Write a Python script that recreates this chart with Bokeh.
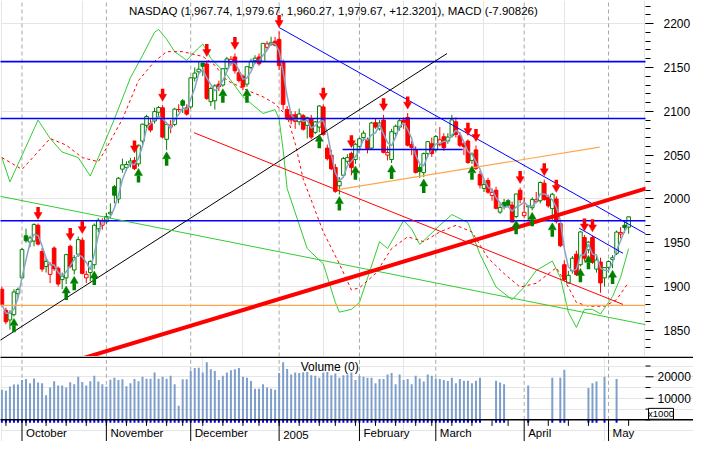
import pandas as pd
from bokeh.plotting import figure
from bokeh.layouts import column
from bokeh.models import Range1d, LinearAxis, FixedTicker
from bokeh.core.properties import value
from bokeh.embed import file_html
from bokeh.resources import INLINE

FONT = "Liberation Sans"

# ---------------- data (trading day index 0 = 2004-09-24 ... 156 = 2005-05-09) ----------------
opens = [1897,1873,1862,1868,1892,1910,1958,1951,1952,1970,
         1940,1923,1914,1944,1921,1908,1910,1946,1919,1937,
         1953,1910,1916,1925,1966,1970,1974,1983,2014,2000,
         2034,2036,2041,2044,2040,2066,2084,2086,2089,2099,
         2104,2068,2082,2085,2102,2112,2104,2105,2138,2145,
         2155,2154,2111,2112,2131,2130,2149,2155,2162,2144,
         2140,2131,2150,2158,2162,2157,2173,2176,2180,2182,
         2156,2102,2096,2096,2088,2095,2084,2092,2076,2082,
         2105,2058,2050,2036,2015,2027,2043,2052,2045,2060,
         2070,2068,2058,2087,2080,2090,2050,2045,2075,2082,
         2090,2093,2062,2056,2036,2030,2052,2063,2056,2062,
         2071,2066,2072,2088,2072,2063,2066,2044,2056,2028,
         2012,2021,2004,2010,1985,1996,1998,1993,1980,2010,
         1981,1992,1990,1997,1998,2018,2002,1989,2000,1972,
         1925,1904,1918,1937,1925,1956,1942,1956,1920,1928,
         1910,1922,1931,1938,1960,1970,1967.74]
highs = [1900,1876,1873,1897,1899,1944,1966,1958,1972,1972,
         1944,1932,1928,1946,1923,1916,1937.5,1948,1936,1957,
         1956,1918,1930,1972,1978,1978,1984,1995,2016,2025,
         2046,2043,2047,2048,2062,2086,2096,2091,2104,2106,
         2107,2086,2090,2104,2108,2114,2108,2139,2150,2157,
         2155,2158,2128,2131,2135,2149,2162,2163,2166,2148,
         2142,2151,2160,2164,2166,2178,2180,2185,2185,2191,
         2159,2106,2100,2100,2103,2097,2094,2096,2089,2107,
         2108,2062,2056,2040,2025,2048,2051,2054,2064,2070,
         2078,2070,2088,2092,2090,2096,2060,2080,2085,2092,
         2093,2098,2066,2060,2040,2053,2066,2070,2073,2082,
         2075,2075,2096,2093,2076,2065,2068,2053,2061,2032,
         2022,2024,2012,2014,1995,2000,2000,1997,2006,2013,
         2002,1993,2002,2008,2020,2022,2005,2007,2003,1975,
         1930,1918,1935,1941,1963,1959,1952,1958,1936,1933,
         1922,1930,1936,1964,1968,1976,1979.67]
lows = [1877,1857,1851,1866,1887,1909,1950,1945,1946,1947,
        1917,1916,1904,1918,1900,1897,1903,1921,1914,1934,
        1914,1904,1906,1920,1962,1965,1971,1978,1995,1995,
        2030,2032,2036,2033,2037,2062,2080,2076,2086,2094,
        2069,2056,2075,2083,2099,2098,2095,2103,2134,2142,
        2140,2113,2106,2102,2123,2128,2147,2152,2143,2133,
        2124,2128,2148,2154,2152,2156,2170,2175,2174,2147,
        2102,2090,2085,2080,2084,2078,2069,2068,2074,2076,
        2072,2044,2033,2007,2005,2025,2040,2027,2040,2057,
        2066,2052,2056,2080,2078,2052,2044,2041,2072,2078,
        2080,2060,2050,2029,2024,2025,2048,2048,2054,2060,
        2055,2063,2070,2070,2059,2050,2040,2040,2033,2012,
        2008,2006,1998,1988,1983,1988,1991,1973,1978,1995,
        1978,1975,1987,1995,1995,1998,1990,1975,1972,1945,
        1907,1904,1915,1912,1923,1929,1938,1926,1916,1893,
        1900,1916,1921,1936,1955,1961,1960.27]
closes = [1879.5,1859.9,1869.9,1893.9,1896.8,1942.2,1952.4,1955.5,1971.0,1948.5,
          1920.0,1928.8,1925.2,1920.5,1903.0,1911.5,1936.5,1922.9,1933.0,1953.6,
          1915.1,1914.0,1928.8,1970.0,1975.7,1975.0,1979.9,1984.8,2004.3,2023.6,
          2038.9,2039.3,2043.3,2034.6,2061.3,2085.3,2094.1,2078.6,2099.7,2104.3,
          2070.6,2085.2,2084.3,2102.5,2102.0,2106.9,2096.8,2138.2,2143.6,2148.0,
          2151.3,2114.7,2126.0,2129.0,2128.1,2148.5,2159.8,2159.3,2146.2,2135.2,
          2127.9,2150.9,2157.0,2160.6,2154.2,2177.5,2177.0,2178.3,2175.4,2152.2,
          2107.9,2091.2,2090.0,2088.6,2097.0,2079.6,2092.5,2070.6,2087.9,2106.0,
          2073.6,2045.9,2034.3,2008.7,2020.0,2046.1,2047.2,2035.8,2062.4,2068.7,
          2075.1,2057.6,2086.7,2082.0,2086.7,2053.1,2052.9,2076.7,2082.9,2089.2,
          2087.4,2061.3,2058.6,2030.3,2031.2,2051.7,2065.4,2051.7,2071.3,2067.5,
          2058.4,2070.6,2090.2,2073.6,2061.3,2059.7,2041.6,2051.2,2034.9,2015.8,
          2016.4,2007.8,2007.5,1989.3,1990.2,1991.1,1992.9,1973.9,2005.7,1999.2,
          1984.8,1991.1,1999.3,1999.1,2018.8,1999.4,1992.1,2005.4,1974.2,1946.7,
          1908.2,1912.9,1932.4,1913.8,1962.4,1932.4,1950.8,1927.7,1930.4,1904.2,
          1921.7,1928.7,1933.1,1962.2,1961.8,1967.35,1979.67]
volume = [14020,13570,15510,16410,16410,18500,18950,17010,19250,17310,
          17010,11480,15070,17900,15960,15960,15070,17460,16560,20000,
          17610,15960,17900,20450,17760,16560,15510,18650,19550,18500,
          18800,15660,17010,18950,17900,20000,19100,19100,21940,19100,
          20000,19100,20450,16560,6550,18800,18800,22690,24030,24180,
          21940,26730,23440,22690,18500,20450,21940,22990,23440,24030,
          20000,19550,18050,14470,14470,16560,15070,14470,14020,21790,
          26730,23590,21040,21940,21790,22090,22240,20750,20450,19550,
          21940,22240,20750,21490,19550,20750,21040,21940,18500,20450,
          20000,19550,19550,17010,18950,18950,21040,21790,16560,21040,
          18500,18950,16560,20450,19250,17760,21040,20450,19250,18950,
          18500,18050,19550,17010,18950,18200,18200,17010,18200,19550,
          None,None,None,18200,17310,16560,None,None,None,None,
          None,15960,None,None,None,None,None,19550,None,19550,
          23290,None,None,None,None,None,14770,17010,17760,None,
          20000,None,None,18950,None,None,None]

month_start = [5, 26, 47, 69, 89, 108, 130, 151]
month_labels = ["October", "November", "December", "2005", "February", "March", "April", "May"]
week_start = [1, 6, 11, 16, 21, 26, 31, 36, 41, 45, 50, 55, 60, 64, 69, 74, 79, 83, 88, 93,
              98, 103, 107, 112, 117, 122, 126, 131, 136, 141, 146, 151, 156]

price_ticks = [1850, 1900, 1950, 2000, 2050, 2100, 2150, 2200]
price_minor = list(range(1830, 2221, 10))
vol_ticks = [10000, 20000]
vol_tick_labels = ["10000", "20000"]
vol_minor = [0, 5000, 15000, 25000]
vol_unit_label = "x1000"

macd_day = [0, 2, 9, 12, 15, 19, 22, 24, 28, 32, 35, 38, 39, 41, 43, 46, 48, 50, 52, 56, 60, 65, 68,
            69, 70, 71, 76, 80, 83, 84, 87, 89, 94, 96, 100, 102, 104, 109, 112, 116, 119, 123, 127,
            130, 133, 137, 139, 141, 143, 145, 147, 149, 152, 154, 156]
macd_val = [18.1, 11.1, 28.9, 23.6, 19.7, 18.1, 12.8, 18.1, 29.2, 41.1, 47.5, 54.2, 55.0, 52.2, 48.6,
            46.1, 48.6, 50.8, 46.7, 41.9, 35.6, 30.8, 31.9, 29.2, 20.3, 9.2, -8.1, -12.5, -23.6, -26.4,
            -25.6, -23.6, -6.1, -8.1, 0.0, -2.5, -6.9, -1.4, 1.7, -0.6, -9.7, -19.2, -22.8, -19.2,
            -14.4, -11.7, -16.4, -26.4, -30.8, -25.6, -25.6, -26.9, -21.9, -16.4, -8.1]
signal_day = [0, 5, 12, 16, 20, 24, 26, 30, 34, 38, 41, 45, 50, 53, 56, 61, 65, 68, 71, 73, 75, 80,
              84, 87, 89, 93, 97, 101, 105, 109, 113, 117, 121, 125, 129, 133, 138, 141, 143, 146,
              150, 153, 156]
signal_val = [18.1, 14.7, 23.6, 21.7, 18.1, 16.9, 20.8, 29.2, 40.3, 45.8, 48.6, 48.6, 47.2, 44.7,
              40.3, 37.5, 35.6, 33.6, 30.0, 22.2, 11.9, -3.3, -12.5, -20.0, -19.4, -15.3, -8.1, -4.7,
              -6.1, -3.3, -1.4, -3.3, -10.8, -15.3, -19.2, -18.1, -13.6, -19.2, -23.6, -24.7, -24.7,
              -22.8, -17.8]

red_arrow_days = [9, 17, 20, 33, 40, 51, 58, 69, 80, 87, 95, 101, 116, 118, 129, 135, 138, 145, 147]
green_arrow_days = [3, 16, 18, 23, 34, 41, 55, 61, 79, 84, 88, 97, 105, 117, 128, 132, 137, 144, 146, 152]

# drawn trend lines: (day, price) anchors
blue_levels = [2156.7, 2091.8, 1975.1]
orange_level = 1878.6
blue_diag = ([69.0, 161.0], [2195.6, 1958.3])
black_diag = ([-1.0, 110.8], [1837.1, 2165.9])
red_thin = ([47.8, 154.6], [2075.6, 1879.7])
red_thick = ([19.0, 161.0], [1816.7, 2012.9])
green_thin = ([-1.0, 161.0], [2003.6, 1855.9])
orange_diag = ([83.6, 148.8], [2010.7, 2059.1])
blue_seg = ([84.8, 114.7], [2056.4, 2056.4])
blue_short = ([143.7, 154.6], [1966.7, 1938.0])

title_text = "NASDAQ (1,967.74, 1,979.67, 1,960.27, 1,979.67, +12.3201), MACD (-7.90826)"

# ---------------- layout constants ----------------
X0, X1 = -0.35, 160.2
Y0, Y1 = 1820.3, 2226.4
V0, V1 = -10045, 29417
M0, M1 = -39.17, 63.33
FW, FH1, FH2 = 645, 356, 85
RB = 48
GREEN, RED = "#008000", "#ff0000"

n = len(closes)
days = list(range(n))


def base_fig(fw, fh, xr, yr, rb):
    f = figure(frame_width=fw, frame_height=fh, x_range=xr, y_range=yr,
               output_backend="svg", toolbar_location=None,
               x_axis_location=None, y_axis_location=None,
               min_border_left=0, min_border_right=rb, min_border_top=0, min_border_bottom=0)
    f.outline_line_color = None
    f.background_fill_color = "white"
    f.border_fill_color = "white"
    return f


# ---------------- price panel ----------------
p = base_fig(FW, FH1, Range1d(X0, X1), Range1d(Y0, Y1), RB)
p.extra_y_ranges = {"macd": Range1d(M0, M1)}

pax = LinearAxis(ticker=FixedTicker(ticks=price_ticks, minor_ticks=price_minor))
pax.axis_line_color = None
pax.major_tick_in = 0
pax.minor_tick_in = 0
pax.major_tick_out = 8
pax.minor_tick_out = 5
pax.major_tick_line_color = "black"
pax.minor_tick_line_color = "black"
pax.major_label_text_font = FONT
pax.major_label_text_font_size = "12px"
pax.major_label_text_color = "black"
pax.major_label_standoff = 10
p.add_layout(pax, "right")

p.segment(x0=month_start, y0=[Y0] * len(month_start), x1=month_start, y1=[Y1] * len(month_start),
          line_color="#a8a8a8", line_width=1, line_dash="4 3")

# MACD overlay
p.line(macd_day, macd_val, y_range_name="macd", line_color="#33cc33", line_width=1)
p.line(signal_day, signal_val, y_range_name="macd", line_color=RED, line_width=1, line_dash="3 3")

# candles
cols, fills, tops, bots = [], [], [], []
for i in range(n):
    prev = closes[i - 1] if i > 0 else opens[0]
    c = GREEN if closes[i] > prev else RED
    cols.append(c)
    fills.append("white" if closes[i] > opens[i] else c)
    tops.append(max(opens[i], closes[i]))
    bots.append(min(opens[i], closes[i]))
p.segment(x0=days, y0=lows, x1=days, y1=highs, line_color=cols, line_width=1)
p.vbar(x=days, width=0.9, top=tops, bottom=bots, fill_color=fills, line_color=cols, line_width=1)

# short moving average of closes
sma = pd.Series(closes).rolling(3, min_periods=1).mean().tolist()
p.line(days, sma, line_color="#87a3c8", line_width=1.5)

# trend lines
for lv in blue_levels:
    p.line([X0 - 1, X1 + 1], [lv, lv], line_color="#0000ff", line_width=1.6)
p.line([X0 - 1, X1 + 1], [orange_level, orange_level], line_color="#ffa64d", line_width=1.2)
p.line(*orange_diag, line_color="#ffa64d", line_width=1.2)
p.line(*blue_diag, line_color="#0000ff", line_width=1)
p.line(*blue_seg, line_color="#0000ff", line_width=1.6)
p.line(*blue_short, line_color="#0000ff", line_width=1)
p.line(*black_diag, line_color="black", line_width=1)
p.line(*red_thin, line_color=RED, line_width=1)
p.line(*green_thin, line_color="#33cc33", line_width=1)
p.line(*red_thick, line_color=RED, line_width=4)

# signal arrows
ppx = (Y1 - Y0) / FH1
rh = [highs[d] for d in red_arrow_days]
p.scatter(red_arrow_days, [h + 8.6 * ppx for h in rh], marker="inverted_triangle",
          size=8, fill_color=RED, line_color=RED, line_width=0.5)
p.rect(red_arrow_days, [h + 13.5 * ppx for h in rh], width=3.5, height=6,
       width_units="screen", height_units="screen", fill_color=RED, line_color=None)
gl = [lows[d] for d in green_arrow_days]
p.scatter(green_arrow_days, [l - 6.6 * ppx for l in gl], marker="triangle",
          size=8, fill_color=GREEN, line_color=GREEN, line_width=0.5)
p.rect(green_arrow_days, [l - 12.4 * ppx for l in gl], width=3.5, height=7,
       width_units="screen", height_units="screen", fill_color=GREEN, line_color=None)

p.text(x=[82.5], y=[2214.6], text=[title_text], text_align="center", text_baseline="middle",
       text_font=value(FONT), text_font_size="11.5px", text_color="black")

# ---------------- volume panel (frame spans the scale column too) ----------------
dx = (X1 - X0) / FW                      # day units per screen pixel
XQ1 = X0 + (FW + RB) * dx
q = base_fig(FW + RB, FH2, Range1d(X0, XQ1), Range1d(V0, V1), 0)
dv = (V1 - V0) / FH2                     # volume units per screen pixel

vd = [i for i in range(n) if volume[i] is not None]
vv = [volume[i] for i in vd]

q.segment(x0=month_start, y0=[0] * len(month_start), x1=month_start, y1=[V1] * len(month_start),
          line_color="#a8a8a8", line_width=1, line_dash="4 3")
q.segment(x0=vd, y0=[0] * len(vd), x1=vd, y1=vv, line_color="#7f9fcb", line_width=2)
q.segment(x0=vd, y0=[0] * len(vd), x1=vd, y1=[-3 * dv] * len(vd), line_color="#0000ff", line_width=2)
q.segment(x0=week_start, y0=[0] * len(week_start), x1=week_start, y1=[-6 * dv] * len(week_start),
          line_color="black", line_width=1)
q.segment(x0=month_start, y0=[0] * len(month_start), x1=month_start, y1=[V0] * len(month_start),
          line_color="black", line_width=1)
q.line([X0 - 1, XQ1 + 1], [0, 0], line_color="black", line_width=1.5)
q.line([X0 - 1, XQ1 + 1], [V1 - 0.8 * dv, V1 - 0.8 * dv], line_color="black", line_width=1.6)

# volume scale: ticks, labels, unit box
q.segment(x0=[X1] * len(vol_ticks), y0=vol_ticks, x1=[X1 + 8 * dx] * len(vol_ticks), y1=vol_ticks,
          line_color="black", line_width=1)
q.segment(x0=[X1] * len(vol_minor), y0=vol_minor, x1=[X1 + 5 * dx] * len(vol_minor), y1=vol_minor,
          line_color="black", line_width=1)
q.text(x=[X1 + 12 * dx] * len(vol_ticks), y=vol_ticks, text=vol_tick_labels, text_align="left",
       text_baseline="middle", text_font=value(FONT), text_font_size="12px", text_color="black")
q.quad(left=[X1 + 3 * dx], right=[X1 + 28 * dx], bottom=[0.6 * dv], top=[11.5 * dv],
       fill_color="white", line_color="black", line_width=1)
q.text(x=[X1 + 15.5 * dx], y=[6 * dv], text=[vol_unit_label], text_align="center",
       text_baseline="middle", text_font=value(FONT), text_font_size="9.5px", text_color="black")

q.text(x=[m + 1.0 for m in month_start], y=[V0 + 2.8 * dv] * len(month_start), text=month_labels,
       text_align="left", text_baseline="bottom", text_font=value(FONT),
       text_font_size="11.5px", text_color="black")
q.text(x=[81.6], y=[24480], text=["Volume (0)"], text_align="center", text_baseline="middle",
       text_font=value(FONT), text_font_size="12px", text_color="black")

layout = column(p, q, spacing=0)
open("out.html", "w").write(file_html(layout, INLINE))
